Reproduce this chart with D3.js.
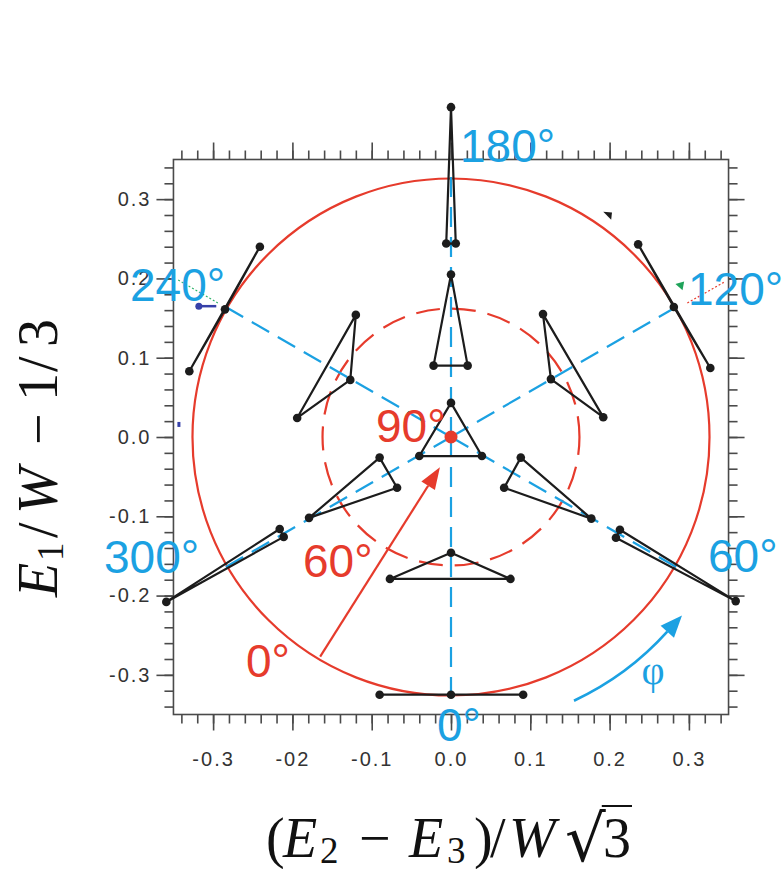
<!DOCTYPE html>
<html><head><meta charset="utf-8">
<script src="https://cdn.jsdelivr.net/npm/d3@7"></script>
<style>body{margin:0;background:#fff}</style>
</head><body>
<svg id="c" width="783" height="869"></svg>
<script>
// ---------- data ----------
const xDomain = [-0.35, 0.35];
const yDomain = [-0.35, 0.35];
const majorTicks = [-0.3, -0.2, -0.1, 0, 0.1, 0.2, 0.3];
const minorTicks = [-0.34,-0.32,-0.3,-0.28,-0.26,-0.24,-0.22,-0.2,-0.18,-0.16,-0.14,-0.12,-0.1,-0.08,-0.06,-0.04,-0.02,0,0.02,0.04,0.06,0.08,0.1,0.12,0.14,0.16,0.18,0.2,0.22,0.24,0.26,0.28,0.3,0.32,0.34];
const xTickLabels = ["-0.3", "-02", "-0.1", "0.0", "0.1", "0.2", "0.3"];
const yTickLabels = ["-0.3", "-0.2", "-0.1", "0.0", "0.1", "0.2", "0.3"];
const phiAngles = [0, 60, 120, 180, 240, 300];
const rayLength = 0.33;
const outerRadius = 0.326;
const innerRadius = 0.162;
const triangles = [
  [[0, 0.043], [-0.040, -0.024], [0.039, -0.024]],          // centre (90°)
  [[0, 0.205], [-0.022, 0.090], [0.021, 0.090]],            // 180° near
  [[0, 0.416], [-0.006, 0.244], [0.006, 0.244]],            // 180° far
  [[0, -0.146], [-0.077, -0.179], [0.075, -0.179]],         // 0° near
  [[-0.090, -0.325], [0, -0.325], [0.091, -0.325]],         // 0° far
  [[0.088, -0.026], [0.067, -0.064], [0.177, -0.103]],      // 60° near
  [[0.213, -0.117], [0.208, -0.127], [0.359, -0.207]],      // 60° far
  [[-0.090, -0.026], [-0.068, -0.064], [-0.179, -0.102]],   // 300° near
  [[-0.216, -0.116], [-0.211, -0.126], [-0.359, -0.208]],   // 300° far
  [[0.116, 0.155], [0.126, 0.073], [0.192, 0.025]],         // 120° near
  [[0.236, 0.243], [0.281, 0.164], [0.327, 0.087]],         // 120° far
  [[-0.120, 0.154], [-0.127, 0.072], [-0.194, 0.024]],      // 240° near
  [[-0.241, 0.240], [-0.285, 0.161], [-0.330, 0.083]]       // 240° far
];
const centrePoint = [0, 0];
const blueLabels = ["180°", "240°", "120°", "300°", "60°", "0°"];
const redLabels = ["90°", "60°", "0°"];
const redArrow = [[-0.165, -0.277], [-0.014, -0.038]];
const phiArc = {radius: 0.367, from: -65, to: -42};
const phiSymbol = "φ";
// axis titles, split into glyph runs: [text, italic, subscript]
const xTitleParts = [["(", 0, 0], ["E", 1, 0], ["2", 0, 1], ["−", 0, 0], ["E", 1, 0], ["3", 0, 1], [")", 0, 0], ["/", 0, 0], ["W", 1, 0], ["√", 0, 0], ["3", 0, 0]];
const yTitleParts = [["E", 1, 0], ["1", 0, 1], ["/", 0, 0], ["W", 1, 0], ["−", 0, 0], ["1", 0, 0], ["/", 0, 0], ["3", 0, 0]];

// ---------- layout ----------
const svg = d3.select("#c");
const x = d3.scaleLinear().domain(xDomain).range([173.45, 728.55]);
const y = d3.scaleLinear().domain(yDomain).range([714.5, 159.5]);
const BLUE = "#1ba1e2", RED = "#e63b2c", INK = "#1c1c1c", AX = "#4a4a4a";
const px = d => x(d) - x(0); // data length -> pixels

// circles
svg.append("circle").attr("cx", x(0)).attr("cy", y(0)).attr("r", px(outerRadius))
  .attr("fill", "none").attr("stroke", RED).attr("stroke-width", 2.2);
svg.append("circle").attr("cx", x(0)).attr("cy", y(0)).attr("r", px(innerRadius))
  .attr("fill", "none").attr("stroke", RED).attr("stroke-width", 2.2)
  .attr("stroke-dasharray", "24,12").attr("stroke-dashoffset", 6);

// blue dashed rays
svg.append("g").selectAll("line").data(phiAngles).join("line")
  .attr("x1", x(0)).attr("y1", y(0))
  .attr("x2", d => x(rayLength * Math.cos((d - 90) * Math.PI / 180)))
  .attr("y2", d => y(rayLength * Math.sin((d - 90) * Math.PI / 180)))
  .attr("stroke", BLUE).attr("stroke-width", 2.2).attr("stroke-dasharray", "20,10");

// frame
svg.append("rect").attr("x", x(xDomain[0])).attr("y", y(yDomain[1]))
  .attr("width", x(xDomain[1]) - x(xDomain[0])).attr("height", y(yDomain[0]) - y(yDomain[1]))
  .attr("fill", "none").attr("stroke", AX).attr("stroke-width", 1.6);

function styleAxis(g) {
  g.select(".domain").remove();
  g.selectAll(".tick line").attr("stroke", AX).attr("stroke-width", 1.6);
  g.selectAll(".tick text").attr("fill", "#333").attr("font-family", "Liberation Sans, Arial, sans-serif")
    .attr("font-size", 20).attr("letter-spacing", 2);
}
const yB = y(yDomain[0]), yT = y(yDomain[1]), xL = x(xDomain[0]), xR = x(xDomain[1]);
// minor ticks
svg.append("g").attr("transform", `translate(0,${yB})`).call(d3.axisBottom(x).tickValues(minorTicks).tickSize(9).tickFormat("")).call(styleAxis);
svg.append("g").attr("transform", `translate(0,${yT})`).call(d3.axisTop(x).tickValues(minorTicks).tickSize(9).tickFormat("")).call(styleAxis);
svg.append("g").attr("transform", `translate(${xL},0)`).call(d3.axisLeft(y).tickValues(minorTicks).tickSize(9).tickFormat("")).call(styleAxis);
svg.append("g").attr("transform", `translate(${xR},0)`).call(d3.axisRight(y).tickValues(minorTicks).tickSize(9).tickFormat("")).call(styleAxis);
// major ticks
svg.append("g").attr("transform", `translate(0,${yB})`)
  .call(d3.axisBottom(x).tickValues(majorTicks).tickSize(16).tickPadding(21).tickFormat((d, i) => xTickLabels[i])).call(styleAxis);
svg.append("g").attr("transform", `translate(0,${yT})`).call(d3.axisTop(x).tickValues(majorTicks).tickSize(17).tickFormat("")).call(styleAxis);
svg.append("g").attr("transform", `translate(${xL},0)`)
  .call(d3.axisLeft(y).tickValues(majorTicks).tickSize(17).tickPadding(5).tickFormat((d, i) => yTickLabels[i])).call(styleAxis);
svg.append("g").attr("transform", `translate(${xR},0)`).call(d3.axisRight(y).tickValues(majorTicks).tickSize(16).tickFormat("")).call(styleAxis);

// small stray marks of the original figure
svg.append("line").attr("x1", x(-0.344)).attr("y1", y(0.198)).attr("x2", x(-0.294)).attr("y2", y(0.169))
  .attr("stroke", "#2fb36a").attr("stroke-width", 1.2).attr("stroke-dasharray", "2,2");
svg.append("line").attr("x1", x(-0.318)).attr("y1", y(0.165)).attr("x2", x(-0.296)).attr("y2", y(0.165))
  .attr("stroke", "#3640a8").attr("stroke-width", 2.5);
svg.append("circle").attr("cx", x(-0.318)).attr("cy", y(0.165)).attr("r", 3.5).attr("fill", "#3640a8");
svg.append("rect").attr("x", x(-0.345)).attr("y", y(0.019)).attr("width", 3).attr("height", 5).attr("fill", "#3640a8");
svg.append("line").attr("x1", x(0.298)).attr("y1", y(0.169)).attr("x2", x(0.344)).attr("y2", y(0.195))
  .attr("stroke", RED).attr("stroke-width", 1.2).attr("stroke-dasharray", "2,2");
svg.append("path").attr("d", d3.line()([[x(0.283), y(0.193)], [x(0.294), y(0.196)], [x(0.292), y(0.185)]]) + "Z").attr("fill", "#1fa35a");
svg.append("path").attr("d", d3.line()([[x(0.192), y(0.284)], [x(0.203), y(0.283)], [x(0.202), y(0.274)]]) + "Z").attr("fill", INK);

// red arrow
(function () {
  const [a, b] = redArrow;
  const x1 = x(a[0]), y1 = y(a[1]), x2 = x(b[0]), y2 = y(b[1]);
  const ang = Math.atan2(y2 - y1, x2 - x1), L = 22, Wd = 8;
  const bx = x2 - L * Math.cos(ang), by = y2 - L * Math.sin(ang);
  svg.append("line").attr("x1", x1).attr("y1", y1).attr("x2", bx).attr("y2", by)
    .attr("stroke", RED).attr("stroke-width", 2.2);
  svg.append("path").attr("fill", RED).attr("d", d3.line()([
    [x2, y2],
    [bx + Wd * Math.sin(ang), by - Wd * Math.cos(ang)],
    [bx - Wd * Math.sin(ang), by + Wd * Math.cos(ang)]]) + "Z");
})();

// blue phi arc arrow
(function () {
  const r = px(phiArc.radius);
  const a0 = -phiArc.from * Math.PI / 180, a1 = -phiArc.to * Math.PI / 180;
  const p = d3.path();
  p.arc(x(0), y(0), r, a0, a1, true);
  svg.append("path").attr("d", p.toString()).attr("fill", "none").attr("stroke", BLUE).attr("stroke-width", 2.6);
  const ex = x(0) + r * Math.cos(a1), ey = y(0) + r * Math.sin(a1);
  const tx = Math.sin(a1), ty = -Math.cos(a1); // tangent (ccw on screen)
  const L = 22, Wd = 9;
  const tipx = ex + L * tx, tipy = ey + L * ty;
  svg.append("path").attr("fill", BLUE).attr("d", d3.line()([
    [tipx, tipy], [ex - Wd * ty, ey + Wd * tx], [ex + Wd * ty, ey - Wd * tx]]) + "Z");
})();

// triangles
const lineGen = d3.line().x(d => x(d[0])).y(d => y(d[1])).curve(d3.curveLinearClosed);
svg.append("g").selectAll("path").data(triangles).join("path")
  .attr("d", lineGen).attr("fill", "none").attr("stroke", INK).attr("stroke-width", 2.2).attr("stroke-linejoin", "round");
svg.append("g").selectAll("circle").data(triangles.flat()).join("circle")
  .attr("cx", d => x(d[0])).attr("cy", d => y(d[1])).attr("r", 4.3).attr("fill", INK);
svg.append("circle").attr("cx", x(centrePoint[0])).attr("cy", y(centrePoint[1])).attr("r", 6.5).attr("fill", RED);

// labels
const blueLabelPos = [[460, 162], [130, 301], [688, 305], [104, 573], [708, 572], [437, 741]];
svg.append("g").selectAll("text").data(blueLabels).join("text")
  .attr("x", (d, i) => blueLabelPos[i][0]).attr("y", (d, i) => blueLabelPos[i][1])
  .attr("font-family", "Liberation Sans, Arial, sans-serif").attr("font-size", 46).attr("fill", BLUE).text(d => d);
const redLabelPos = [[376, 442], [303, 577], [246, 677]];
svg.append("g").selectAll("text").data(redLabels).join("text")
  .attr("x", (d, i) => redLabelPos[i][0]).attr("y", (d, i) => redLabelPos[i][1])
  .attr("font-family", "Liberation Sans, Arial, sans-serif").attr("font-size", 46).attr("fill", RED).text(d => d);
svg.append("text").attr("x", 653).attr("y", 684).attr("text-anchor", "middle")
  .attr("font-family", "Liberation Serif, serif").attr("font-size", 40).attr("fill", BLUE).text(phiSymbol);

// axis titles
const SERIF = "Liberation Serif, 'DejaVu Serif', serif";
const FS = 56, SUB = 37, SUBDY = 6;
function buildTitle(t, parts, offsets, base) {
  parts.forEach((p, i) => {
    const s = t.append("tspan").attr("x", offsets[i]).attr("y", base + (p[2] ? SUBDY : 0)).text(p[0]);
    if (p[1]) s.attr("font-style", "italic");
    if (p[2]) s.attr("font-size", SUB);
  });
}
const xBase = 857;
const xt = svg.append("text").attr("font-family", SERIF).attr("font-size", FS).attr("fill", "#111");
buildTitle(xt, xTitleParts, [266, 283, 320, 359, 409, 447, 474, 490, 509, 565, 603], xBase);
xt.selectAll("tspan").filter((d, i) => i === 9).attr("font-family", "DejaVu Serif").attr("font-size", 64).attr("y", xBase + 4);
(function () {
  const n = xt.node().getNumberOfChars();
  const e3 = xt.node().getExtentOfChar(n - 1);
  const es = xt.node().getExtentOfChar(n - 2);
  const topY = 806;
  svg.append("line").attr("x1", es.x + es.width - 4).attr("y1", topY).attr("x2", e3.x + e3.width + 1).attr("y2", topY)
    .attr("stroke", "#111").attr("stroke-width", 2);
})();

const yt = svg.append("text").attr("transform", "translate(57,0) rotate(-90)")
  .attr("font-family", SERIF).attr("font-size", FS).attr("fill", "#111");
// in the rotated frame x = -screenY
buildTitle(yt, yTitleParts, [-597, -561, -538, -514, -445, -401, -372, -347], 0);
</script>
</body></html>
